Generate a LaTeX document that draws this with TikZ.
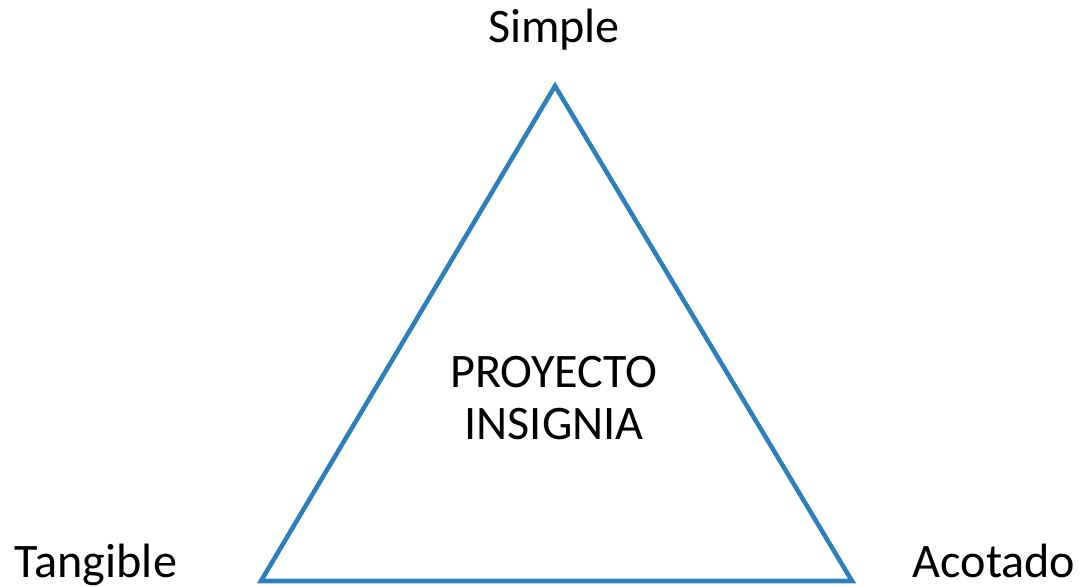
\documentclass[tikz,border=0pt]{standalone}
\usepackage{fontspec}
\setmainfont{Carlito}
\definecolor{triblue}{RGB}{46,128,188}
\tikzset{
  lbl/.style={font=\fontsize{13.7pt}{14.8pt}\selectfont, inner sep=0pt, anchor=base},
  side/.style={draw=triblue, line width=1.3pt}
}

\begin{document}
\begin{tikzpicture}
  \useasboundingbox (0,0) rectangle (10.81,5.87);
  \coordinate (top) at (5.55,5.01);
  \coordinate (left) at (2.61,0.06);
  \coordinate (right) at (8.52,0.06);
  \draw[side] (top) -- (left) -- (right) -- cycle;
  \node[lbl] (simple) at (5.54,5.44) {Simple};
  \node[lbl] (tangible) at (0.96,0.09) {Tangible};
  \node[lbl] (acotado) at (9.94,0.09) {Acotado};
  \node[lbl, anchor=center, align=center] (centre) at (5.54,1.89) {PROYECTO\\INSIGNIA};
\end{tikzpicture}
\end{document}
